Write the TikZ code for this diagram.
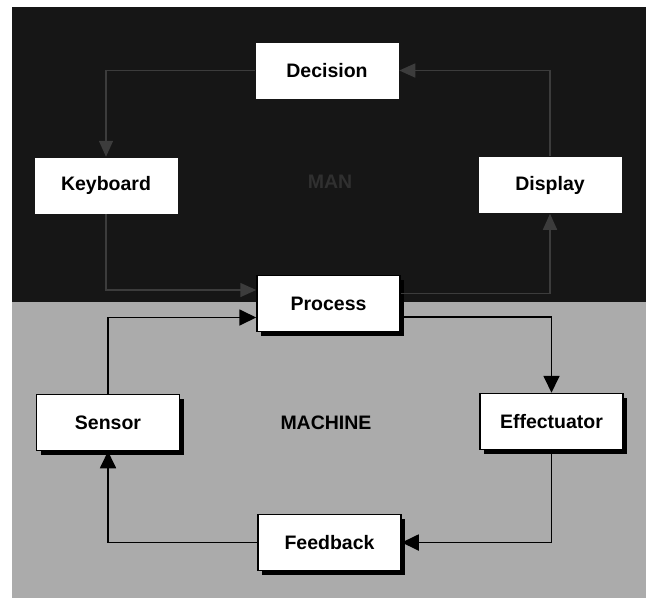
\documentclass[tikz,border=0pt]{standalone}
\usepackage{fontspec}
\setmainfont{Liberation Sans}
\usetikzlibrary{arrows.meta,shadows}
\definecolor{darkbg}{HTML}{161616}
\definecolor{lightbg}{HTML}{ABABAB}
\definecolor{darkline}{HTML}{3C3C3C}
\definecolor{mantext}{HTML}{303030}
\begin{document}
\begin{tikzpicture}[x=1pt,y=-1pt,
  box/.style={draw=black, line width=1.5pt, fill=white, minimum width=143pt, minimum height=56pt, inner sep=0pt, font=\fontsize{19.5}{22}\selectfont\bfseries},
  manbox/.style={box, draw=none},
  machbox/.style={box, drop shadow={shadow xshift=4pt, shadow yshift=-4pt, fill=black, opacity=1}},
  machline/.style={line width=1.8pt, -{Triangle[length=17pt,width=16pt]}},
  manline/.style={line width=1.5pt, draw=darkline, -{Triangle[length=16pt,width=14pt]}},
  lbl/.style={font=\fontsize{19.5}{22}\selectfont\bfseries}
]
\useasboundingbox (0,0) rectangle (653,600);
\fill[white] (0,0) rectangle (653,600);
\fill[darkbg] (12,7) rectangle (646,302);
\fill[lightbg] (12,302) rectangle (646,598);

% MAN part
\node[manbox] (dec) at (327,70.5) {Decision};
\node[manbox] (key) at (106,185.5) {Keyboard};
\node[manbox] (disp) at (550,185) {Display};
\node[lbl, text=mantext] (man) at (330,182) {MAN};

% MACHINE part
\node[machbox] (proc) at (328.5,303.5) {Process};
\node[machbox] (sens) at (108,422.5) {Sensor};
\node[machbox] (eff) at (551.5,421.5) {Effectuator};
\node[machbox] (feed) at (329.5,542.5) {Feedback};
\node[lbl] (mach) at (326,423) {MACHINE};

% MAN loop
\draw[manline] (dec.west) -| (key.north);
\draw[manline] (key.south) |- ([yshift=13.5pt]proc.west);
\draw[manline] ([yshift=10pt]proc.east) -| (disp.south);
\draw[manline] (disp.north) |- (dec.east);

% MACHINE loop
\draw[machline] (sens.north) |- ([yshift=-14pt]proc.west);
\draw[machline] ([yshift=-13.5pt]proc.east) -| (eff.north);
\draw[machline] (eff.south) |- (feed.east);
\draw[machline] (feed.west) -| (sens.south);
\end{tikzpicture}
\end{document}
